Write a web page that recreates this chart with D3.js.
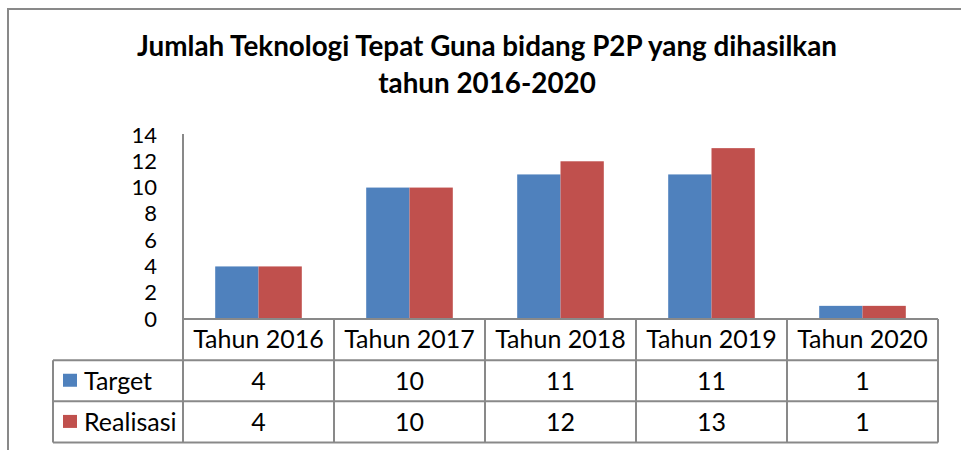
<!DOCTYPE html>
<html>
<head>
<meta charset="utf-8">
<script src="https://cdn.jsdelivr.net/npm/d3@7"></script>
<style>
    body { margin: 0; background: #fff; }
    text { font-family: Lato, "Open Sans", sans-serif; fill: #000; }
</style>
</head>
<body>
<div id="chart"></div>
<script>
// chart data
const categories = ["Tahun 2016", "Tahun 2017", "Tahun 2018", "Tahun 2019", "Tahun 2020"];
const seriesNames = ["Target", "Realisasi"];
const targetValues = [4, 10, 11, 11, 1];
const realisasiValues = [4, 10, 12, 13, 1];
const yTicks = [0, 2, 4, 6, 8, 10, 12, 14];
const titleLines = ["Jumlah Teknologi Tepat Guna bidang P2P yang dihasilkan", "tahun 2016-2020"];

const colors = { "Target": "#4F81BD", "Realisasi": "#C0504D" };
const seriesValues = { "Target": targetValues, "Realisasi": realisasiValues };
const lineColor = "#898989";
const fontSize = "25px";

const width = 961, height = 450;

const svg = d3.select("#chart")
    .append("svg")
    .attr("width", width)
    .attr("height", height);

// outer frame (only left and top visible)
svg.append("path")
    .attr("d", "M8,450 V9 H961")
    .attr("fill", "none")
    .attr("stroke", lineColor)
    .attr("stroke-width", 2);

// title
svg.selectAll(".title")
    .data(titleLines)
    .enter().append("text")
    .attr("class", "title")
    .attr("x", 487)
    .attr("y", (d, i) => 56 + i * 37)
    .attr("text-anchor", "middle")
    .attr("font-weight", "bold")
    .attr("font-size", "27.8px")
    .text(d => d);

// scales
const x = d3.scaleBand()
    .domain(categories)
    .range([183, 938])
    .padding(0);

const barW = 43.3;
const x1 = d3.scaleBand()
    .domain(seriesNames)
    .range([x.bandwidth() / 2 - barW, x.bandwidth() / 2 + barW]);

const y = d3.scaleLinear()
    .domain([0, 14])
    .range([319, 135]);

const rows = d3.scaleBand()
    .domain(["category"].concat(seriesNames))
    .range([319, 442.5]);

// Y axis labels
const yAxis = svg.append("g")
    .attr("transform", "translate(183,0)")
    .call(d3.axisLeft(y).tickValues(yTicks).tickSize(0).tickPadding(26));
yAxis.select(".domain").remove();
yAxis.selectAll("text")
    .attr("font-size", "22px")
    .attr("font-family", "Lato, sans-serif")
    .attr("fill", "#000");

// bars
const groups = svg.selectAll(".group")
    .data(categories)
    .enter().append("g")
    .attr("class", "group")
    .attr("transform", d => `translate(${x(d)},0)`);

groups.selectAll("rect")
    .data((d, i) => seriesNames.map(s => ({ key: s, value: seriesValues[s][i] })))
    .enter().append("rect")
    .attr("x", d => x1(d.key))
    .attr("width", x1.bandwidth())
    .attr("y", d => y(d.value))
    .attr("height", d => y(0) - y(d.value))
    .attr("fill", d => colors[d.key]);

// data table grid
const grid = svg.append("g")
    .attr("fill", "none")
    .attr("stroke", lineColor)
    .attr("stroke-width", 2);

const tableLeft = 53;
const tableRight = x.range()[1];
const tableBottom = rows.range()[1];

// horizontal lines
grid.append("line")
    .attr("x1", x.range()[0]).attr("x2", tableRight)
    .attr("y1", y(0)).attr("y2", y(0));
seriesNames.forEach(s => {
    grid.append("line")
        .attr("x1", tableLeft).attr("x2", tableRight)
        .attr("y1", rows(s)).attr("y2", rows(s));
});
grid.append("line")
    .attr("x1", tableLeft).attr("x2", tableRight)
    .attr("y1", tableBottom).attr("y2", tableBottom);

// vertical lines
grid.append("line")
    .attr("x1", x.range()[0]).attr("x2", x.range()[0])
    .attr("y1", y(14) - 1).attr("y2", tableBottom);
grid.append("line")
    .attr("x1", tableLeft).attr("x2", tableLeft)
    .attr("y1", rows(seriesNames[0])).attr("y2", tableBottom);
categories.forEach(c => {
    grid.append("line")
        .attr("x1", x(c) + x.bandwidth()).attr("x2", x(c) + x.bandwidth())
        .attr("y1", y(0)).attr("y2", tableBottom);
});

// category labels
svg.selectAll(".cat-label")
    .data(categories)
    .enter().append("text")
    .attr("class", "cat-label")
    .attr("x", d => x(d) + x.bandwidth() / 2)
    .attr("y", rows("category") + rows.bandwidth() / 2)
    .attr("dy", "0.35em")
    .attr("text-anchor", "middle")
    .attr("font-size", fontSize)
    .text(d => d);

// legend keys + values
seriesNames.forEach(s => {
    const cy = rows(s) + rows.bandwidth() / 2;
    svg.append("rect")
        .attr("x", 63)
        .attr("y", cy - 7)
        .attr("width", 14)
        .attr("height", 13)
        .attr("fill", colors[s]);
    svg.append("text")
        .attr("x", 84)
        .attr("y", cy)
        .attr("dy", "0.35em")
        .attr("font-size", fontSize)
        .text(s);
    svg.selectAll(".val-" + s)
        .data(seriesValues[s])
        .enter().append("text")
        .attr("x", (d, i) => x(categories[i]) + x.bandwidth() / 2)
        .attr("y", cy)
        .attr("dy", "0.35em")
        .attr("text-anchor", "middle")
        .attr("font-size", fontSize)
        .text(d => d);
});
</script>
</body>
</html>
